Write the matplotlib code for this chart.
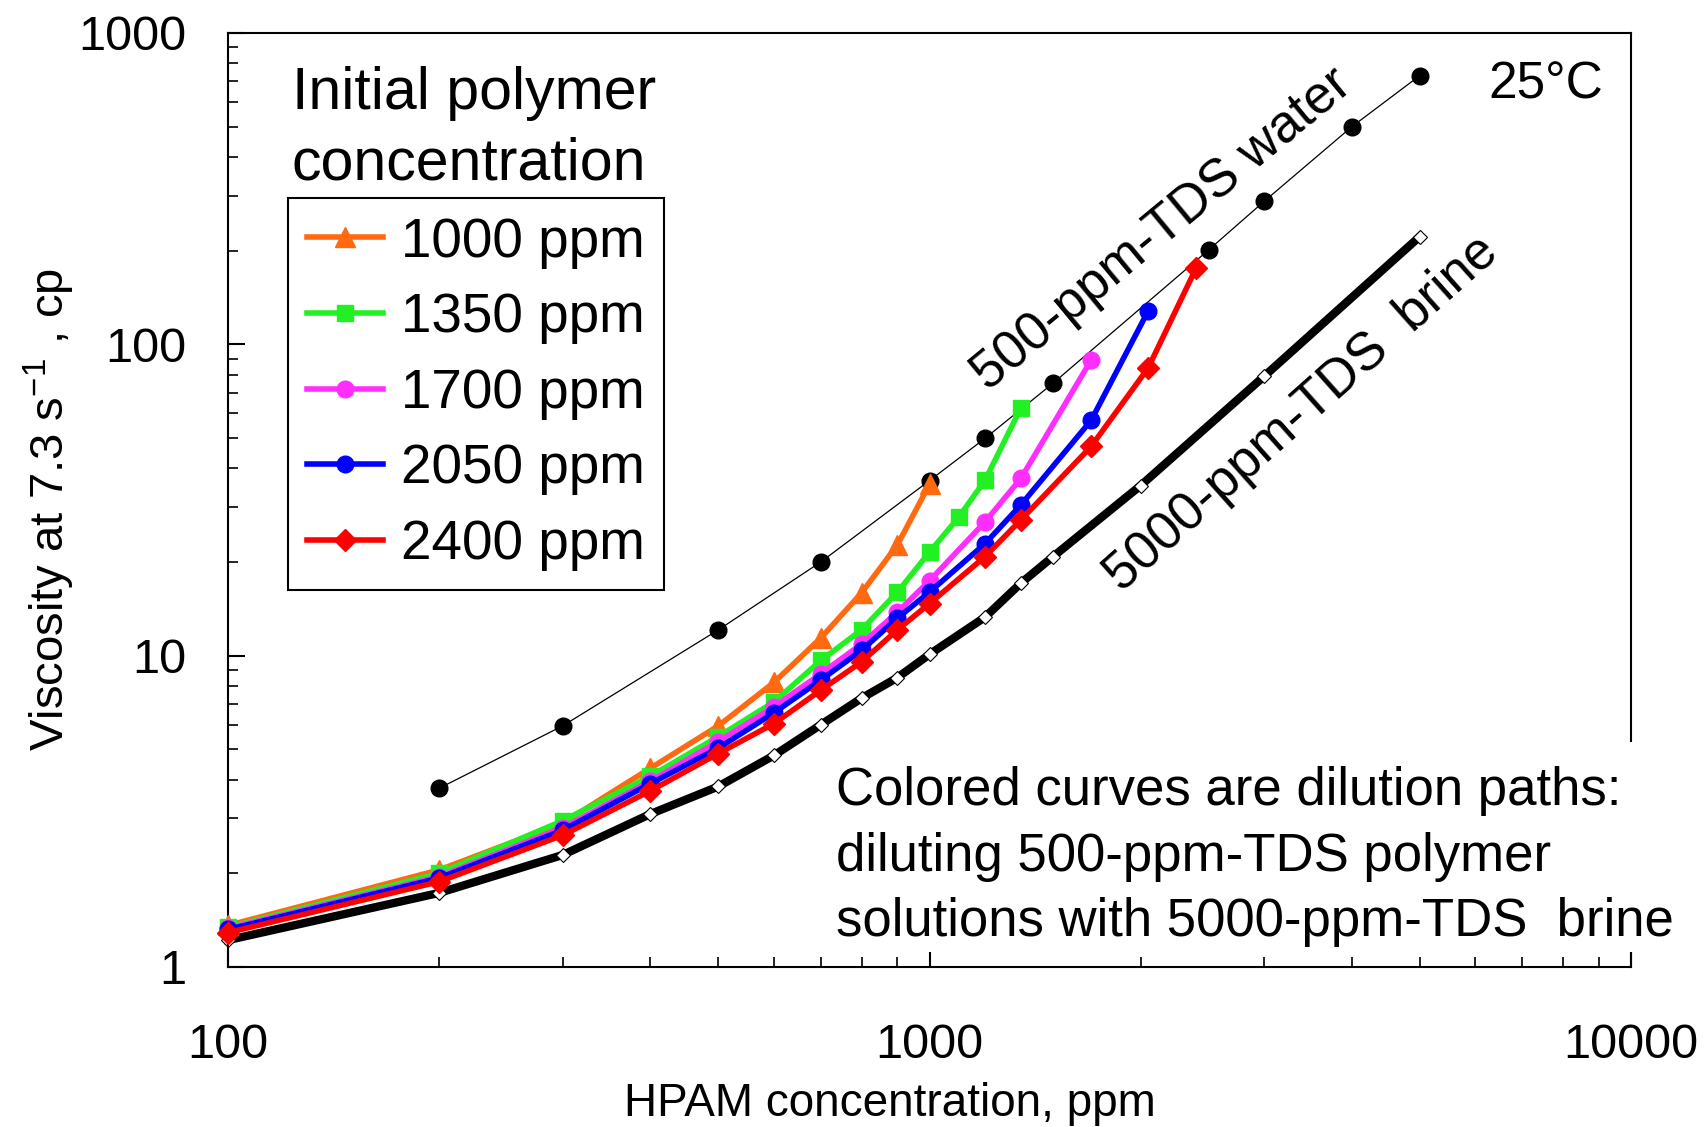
import numpy as np
import matplotlib
matplotlib.use('Agg')
import matplotlib.pyplot as plt
from matplotlib.ticker import FuncFormatter
from matplotlib.patches import Rectangle

plt.rcParams['font.family'] = ['Liberation Sans', 'DejaVu Sans']
plt.rcParams['mathtext.fontset'] = 'custom'
plt.rcParams['mathtext.rm'] = 'Liberation Sans'
plt.rcParams['mathtext.it'] = 'Liberation Sans:italic'
plt.rcParams['mathtext.default'] = 'regular'

# --- data (HPAM conc in ppm, viscosity in cp) ---
x_1000 = [100, 200, 300, 400, 500, 600, 700, 800, 900, 1000]
y_1000 = [1.36, 2.05, 2.9, 4.35, 5.95, 8.2, 11.4, 15.9, 22.7, 35.5]

x_1350 = [100, 200, 300, 400, 500, 600, 700, 800, 900, 1000, 1100, 1200, 1350]
y_1350 = [1.34, 2.0, 2.95, 4.1, 5.5, 7.1, 9.65, 12.1, 16.0, 21.5, 27.8, 36.6, 62.5]

x_1700 = [100, 200, 300, 400, 500, 600, 700, 800, 900, 1000, 1200, 1350, 1700]
y_1700 = [1.33, 1.95, 2.8, 3.95, 5.3, 6.85, 8.75, 10.9, 13.8, 17.4, 26.9, 37.1, 89]

x_2050 = [100, 200, 300, 400, 500, 600, 700, 800, 900, 1000, 1200, 1350, 1700, 2050]
y_2050 = [1.32, 1.93, 2.75, 3.88, 5.05, 6.55, 8.35, 10.4, 13.2, 16.0, 22.9, 30.5, 57, 128]

x_2400 = [100, 200, 300, 400, 500, 600, 700, 800, 900, 1000, 1200, 1350, 1700, 2050, 2400]
y_2400 = [1.29, 1.88, 2.65, 3.68, 4.85, 6.05, 7.75, 9.55, 12.1, 14.7, 20.8, 27.3, 47, 84, 176]

x_brine = [100, 200, 300, 400, 500, 600, 700, 800, 900, 1000, 1200, 1350, 1500, 2000, 3000, 5000]
y_brine = [1.22, 1.73, 2.29, 3.1, 3.8, 4.78, 6.0, 7.3, 8.5, 10.1, 13.3, 17.1, 20.8, 35.2, 79, 222]

x_water = [200, 300, 500, 700, 1000, 1200, 1500, 2500, 3000, 4000, 5000]
y_water = [3.75, 5.95, 12.1, 20, 36.5, 49.9, 75, 201, 288, 500, 730]

labels = ['1000 ppm', '1350 ppm', '1700 ppm', '2050 ppm', '2400 ppm']
colors = ['#FF6A10', '#22F022', '#FF2EFF', '#0000FF', '#FF0000']
markers = ['^', 's', 'o', 'o', 'D']
msizes = [15, 12, 12, 12, 11]

W, H = 1707, 1127
fig = plt.figure(figsize=(W / 100, H / 100), dpi=100)
ax = fig.add_axes([228 / W, 1 - 967 / H, 1403 / W, 934 / H])

# water curve (thin) and brine curve (thick)
ax.plot(x_water, y_water, color='black', lw=0.9, marker='o', ms=12,
        zorder=2, clip_on=False)
ax.plot(x_brine, y_brine, color='black', lw=6, marker='D', ms=7,
        mfc='white', mec='black', mew=0.8, zorder=2.2, clip_on=False)

series = [(x_1000, y_1000), (x_1350, y_1350), (x_1700, y_1700),
          (x_2050, y_2050), (x_2400, y_2400)]
for i, (xs, ys) in enumerate(series):
    ax.plot(xs, ys, color=colors[i], lw=4, marker=markers[i], ms=msizes[i],
            label=labels[i], zorder=3 + i * 0.1, clip_on=False)

ax.set_xscale('log')
ax.set_yscale('log')
ax.set_xlim(100, 10000)
ax.set_ylim(1, 1000)

fmt = FuncFormatter(lambda v, p: f'{v:g}')
ax.xaxis.set_major_formatter(fmt)
ax.yaxis.set_major_formatter(fmt)
ax.tick_params(which='both', direction='in', top=False, right=False)
ax.tick_params(which='major', length=12, width=1.5, labelsize=35)
ax.tick_params(which='minor', length=7, width=1.2)
ax.tick_params(axis='x', pad=40)
ax.tick_params(axis='y', pad=30)
for s in ax.spines.values():
    s.set_linewidth(1.5)

ax.set_xlabel('HPAM concentration, ppm', fontsize=33)
ax.xaxis.set_label_coords(0.472, -0.147)
ax.xaxis.label.set_va('center')
ax.set_ylabel('Viscosity at 7.3 s$^{-1}$ , cp', fontsize=34)
ax.yaxis.set_label_coords(-0.1276, 0.49)
ax.yaxis.label.set_va('center')

# legend with its title above the box
leg = ax.legend(loc='upper left', bbox_to_anchor=(288 / W, 1 - 198 / H),
                bbox_transform=fig.transFigure, borderaxespad=0,
                fontsize=39.5, handlelength=1.4, handletextpad=0.32,
                labelspacing=0.43, borderpad=0.34, fancybox=False,
                framealpha=1, edgecolor='black')
leg.get_frame().set_linewidth(1.5)
fig.text(292 / W, 1 - 109 / H, 'Initial polymer', fontsize=42.5, va='baseline')
fig.text(292 / W, 1 - 180 / H, 'concentration', fontsize=42.5, va='baseline')

# curve labels
ax.text(0.666, 0.790, '500-ppm-TDS water', fontsize=38, rotation=39.6,
        rotation_mode='anchor', ha='center', va='center', transform=ax.transAxes)
ax.text(0.765, 0.592, '5000-ppm-TDS  brine', fontsize=38, rotation=41.7,
        rotation_mode='anchor', ha='center', va='center', transform=ax.transAxes)
ax.text(1488 / W, 1 - 85 / H, '25°C', fontsize=37, ha='left', va='center',
        transform=fig.transFigure)

# note box, white background hides part of the right spine
fig.patches.append(Rectangle((826 / W, 1 - 952 / H), 870 / W, 210 / H,
                             transform=fig.transFigure, facecolor='white',
                             edgecolor='none', zorder=3))
note = ['Colored curves are dilution paths:',
        'diluting 500-ppm-TDS polymer',
        'solutions with 5000-ppm-TDS  brine']
for k, line in enumerate(note):
    fig.text(836 / W, 1 - (805 + 65.5 * k) / H, line, fontsize=38,
             va='baseline', zorder=4)

fig.savefig('out.png', dpi=100)
